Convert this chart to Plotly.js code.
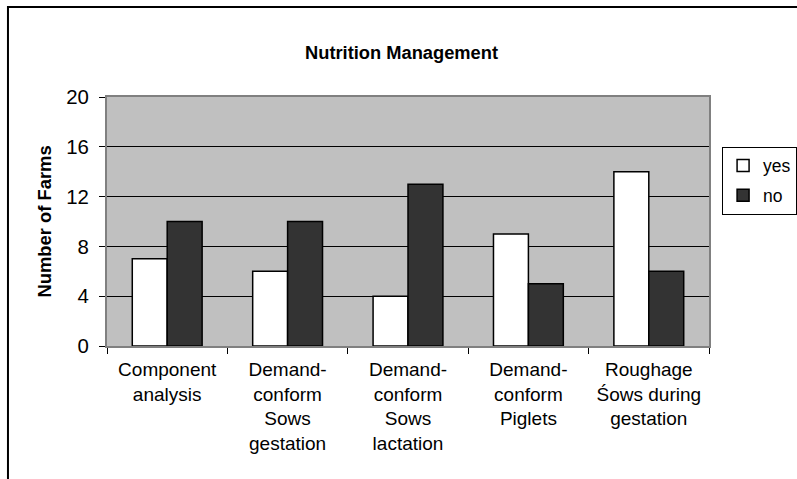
<!DOCTYPE html>
<html>
<head>
<meta charset="utf-8">
<script src="https://cdn.plot.ly/plotly-3.0.1.min.js"></script>
<style>html,body{margin:0;padding:0;background:#fff;}#chart{width:797px;height:479px;}</style>
</head>
<body>
<div id="chart"></div>
<script>
const categories = ["Component analysis", "Demand-conform Sows gestation", "Demand-conform Sows lactation", "Demand-conform Piglets", "Roughage Sows during gestation"];
const tickLabels = ["Component<br>analysis", "Demand-<br>conform<br>Sows<br>gestation", "Demand-<br>conform<br>Sows<br>lactation", "Demand-<br>conform<br>Piglets", "Roughage<br>Śows during<br>gestation"];
const yesValues = [7, 6, 4, 9, 14];
const noValues = [10, 10, 13, 5, 6];
const yTicks = [0, 4, 8, 12, 16, 20];

const FONT = "'Liberation Sans', Arial, sans-serif";

const traces = [
  {type: "bar", name: "yes", x: categories, y: yesValues, legendgroup: "a",
   marker: {color: "#ffffff", line: {color: "#000000", width: 1.5}}},
  {type: "bar", name: "no", x: categories, y: noValues, legendgroup: "b",
   marker: {color: "#333333", line: {color: "#000000", width: 1.5}}}
];

const layout = {
  width: 797, height: 479,
  margin: {l: 107, r: 88, t: 97, b: 133, pad: 0},
  paper_bgcolor: "#ffffff",
  plot_bgcolor: "#c0c0c0",
  font: {family: FONT, color: "#000000", size: 19},
  title: {text: "<b>Nutrition Management</b>", font: {family: FONT, size: 18.3, color: "#000"},
          x: 0.5038, xref: "container", xanchor: "center", y: 0.891, yref: "container", yanchor: "middle"},
  barmode: "group", bargap: 0.42, bargroupgap: 0,
  showlegend: true,
  legend: {xref: "container", yref: "container", x: 0.906, xanchor: "left", y: 0.694, yanchor: "top",
           bgcolor: "#ffffff", bordercolor: "#000000", borderwidth: 1,
           font: {family: FONT, size: 17.5}, traceorder: "grouped", tracegroupgap: 4},
  xaxis: {type: "category", categoryorder: "array", categoryarray: categories,
          tickvals: categories, ticktext: tickLabels, tickson: "boundaries",
          ticks: "outside", ticklen: 6, tickcolor: "#000", tickwidth: 1,
          showgrid: false, zeroline: false, showline: true, mirror: true,
          linecolor: "#808080", linewidth: 2, tickangle: 0, ticklabelstandoff: 5,
          tickfont: {family: FONT, size: 19}},
  yaxis: {range: [0, 20], tickvals: yTicks, ticktext: yTicks.map(String),
          ticks: "outside", ticklen: 6, tickcolor: "#000", tickwidth: 1,
          showgrid: true, gridcolor: "#000000", gridwidth: 1, zeroline: false,
          showline: true, mirror: true, linecolor: "#808080", linewidth: 2,
          ticklabelstandoff: 6,
          tickfont: {family: FONT, size: 20.4},
          title: {text: "<b>Number of Farms</b>", font: {family: FONT, size: 18.4}, standoff: 10}},
  shapes: [
    {type: "rect", xref: "paper", yref: "paper", x0: -0.1645, x1: 1.16, y0: -0.6, y1: 1.3614,
     line: {color: "#000000", width: 2}, fillcolor: "rgba(0,0,0,0)", layer: "below"}
  ]
};

Plotly.newPlot("chart", traces, layout, {displayModeBar: false, staticPlot: true});
</script>
</body>
</html>
